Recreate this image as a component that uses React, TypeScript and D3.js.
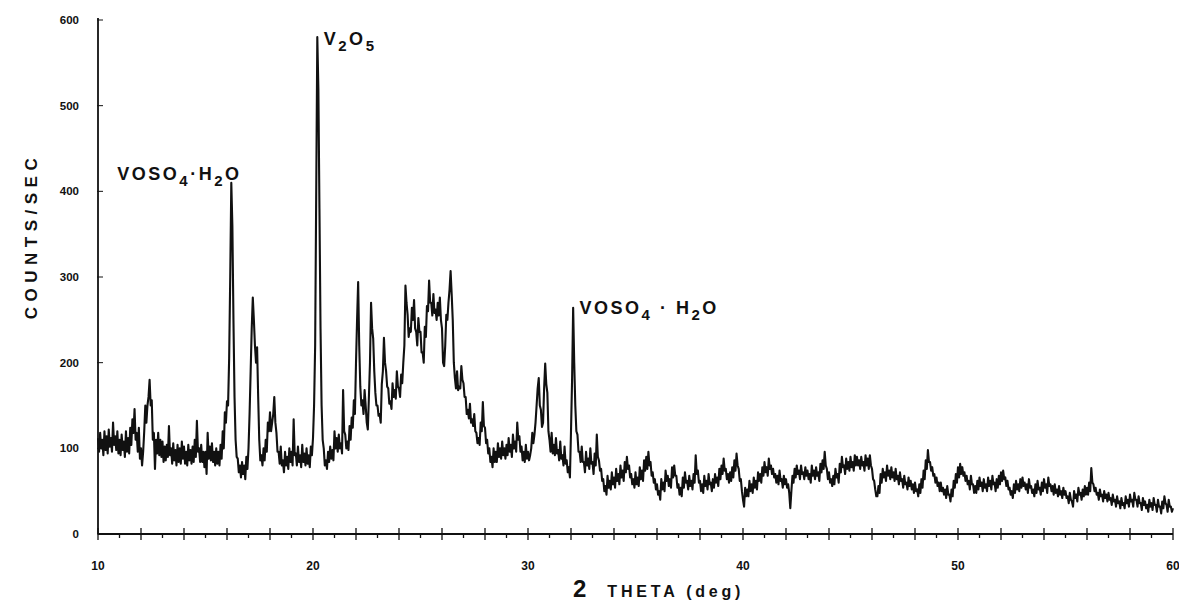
import React from "react";
import * as d3 from "d3";

// chart recorder scan, 2-theta 10..60 deg in 0.1 deg steps.
// countsA: reading at the start of each step, countsB: reading half a step later
const thetaStart = 10;
const thetaStep = 0.1;

const countsA = [
  // 10
  112, 118, 110, 120, 114, 122, 112, 130, 114, 120,
  // 11
  110, 116, 108, 120, 112, 124, 134, 146, 118, 124,
  // 12
  100, 96, 150, 150, 180, 156, 118, 110, 118, 110,
  // 13
  108, 102, 104, 126, 100, 106, 98, 104, 100, 108,
  // 14
  102, 96, 104, 98, 102, 110, 132, 100, 104, 96,
  // 15
  96, 118, 102, 106, 96, 100, 96, 104, 120, 142,
  // 16
  155, 205, 410, 250, 110, 88, 80, 84, 80, 90,
  // 17
  100, 190, 276, 220, 218, 110, 92, 100, 110, 130,
  // 18
  142, 130, 160, 118, 96, 102, 86, 96, 90, 100,
  // 19
  96, 134, 94, 102, 92, 104, 94, 100, 92, 102,
  // 20
  112, 220, 580, 380, 150, 100, 86, 96, 102, 98,
  // 21
  120, 112, 116, 106, 168, 116, 108, 126, 136, 156,
  // 22
  200, 294, 172, 156, 168, 130, 160, 270, 228, 165,
  // 23
  150, 140, 175, 229, 190, 170, 155, 176, 168, 190,
  // 24
  170, 186, 200, 290, 256, 240, 264, 273, 236, 252,
  // 25
  236, 212, 242, 266, 296, 270, 280, 262, 270, 276,
  // 26
  240, 196, 256, 270, 307, 250, 182, 190, 172, 196,
  // 27
  176, 160, 145, 152, 134, 140, 118, 112, 130, 154,
  // 28
  124, 110, 100, 90, 100, 96, 106, 100, 108, 100,
  // 29
  104, 112, 104, 116, 108, 130, 114, 102, 96, 104,
  // 30
  96, 92, 118, 116, 150, 182, 145, 130, 199, 165,
  // 31
  110, 118, 104, 112, 98, 108, 92, 102, 86, 78,
  // 32
  120, 264, 150, 116, 96, 102, 84, 96, 88, 100,
  // 33
  84, 94, 116, 86, 76, 64, 56, 68, 62, 72,
  // 34
  66, 76, 70, 80, 74, 84, 90, 80, 70, 64,
  // 35
  72, 66, 78, 74, 86, 90, 96, 84, 72, 64,
  // 36
  58, 50, 64, 60, 74, 68, 64, 78, 80, 68,
  // 37
  58, 54, 66, 72, 62, 68, 62, 70, 92, 74,
  // 38
  62, 58, 68, 62, 70, 60, 64, 70, 66, 76,
  // 39
  80, 88, 76, 70, 72, 78, 86, 94, 76, 64,
  // 40
  40, 54, 52, 62, 58, 66, 62, 72, 70, 78,
  // 41
  84, 78, 88, 80, 76, 70, 68, 74, 64, 68,
  // 42
  64, 58, 30, 68, 76, 80, 74, 80, 72, 78,
  // 43
  74, 70, 80, 74, 78, 72, 82, 86, 96, 76,
  // 44
  72, 64, 68, 76, 70, 82, 90, 80, 88, 84,
  // 45
  90, 84, 92, 90, 86, 90, 84, 92, 88, 92,
  // 46
  76, 62, 44, 56, 70, 76, 72, 80, 74, 78,
  // 47
  72, 76, 68, 72, 64, 68, 60, 66, 62, 58,
  // 48
  60, 52, 58, 64, 74, 86, 98, 84, 78, 70,
  // 49
  66, 60, 60, 54, 52, 56, 46, 52, 62, 70,
  // 50
  78, 82, 78, 72, 68, 62, 68, 58, 56, 62,
  // 51
  66, 60, 64, 58, 66, 62, 68, 60, 64, 68,
  // 52
  72, 74, 66, 62, 54, 50, 58, 62, 58, 64,
  // 53
  66, 60, 58, 64, 56, 52, 58, 62, 54, 60,
  // 54
  64, 58, 66, 58, 56, 58, 52, 56, 50, 54,
  // 55
  50, 44, 48, 38, 50, 46, 54, 48, 52, 56,
  // 56
  54, 60, 77, 58, 54, 48, 52, 46, 50, 46,
  // 57
  48, 42, 46, 40, 44, 38, 42, 36, 44, 40,
  // 58
  46, 40, 48, 40, 44, 36, 42, 38, 34, 40,
  // 59
  36, 42, 34, 40, 32, 38, 44, 34, 40, 32,
  // 60
  30,
];

const countsB = [
  // 10
  96, 100, 92, 98, 94, 102, 96, 104, 98, 94,
  // 11
  92, 98, 90, 96, 94, 104, 118, 110, 96, 88,
  // 12
  80, 120, 130, 160, 150, 110, 76, 94, 92, 90,
  // 13
  84, 86, 90, 92, 82, 86, 80, 84, 82, 88,
  // 14
  82, 80, 86, 82, 84, 90, 96, 84, 84, 78,
  // 15
  70, 88, 86, 84, 80, 82, 80, 88, 100, 130,
  // 16
  150, 300, 360, 160, 90, 72, 66, 70, 64, 76,
  // 17
  140, 240, 250, 200, 160, 86, 80, 86, 96, 120,
  // 18
  120, 140, 130, 96, 82, 80, 72, 80, 76, 84,
  // 19
  80, 92, 80, 84, 78, 84, 80, 82, 78, 92,
  // 20
  150, 400, 520, 240, 110, 80, 76, 84, 88, 86,
  // 21
  100, 96, 100, 94, 120, 100, 98, 110, 124, 140,
  // 22
  250, 220, 150, 140, 150, 122, 200, 240, 190, 150,
  // 23
  138, 130, 190, 200, 172, 152, 146, 160, 158, 172,
  // 24
  160, 176, 220, 270, 230, 236, 250, 240, 220, 236,
  // 25
  212, 200, 230, 260, 270, 255, 258, 250, 255, 250,
  // 26
  200, 220, 250, 285, 280, 200, 170, 168, 170, 180,
  // 27
  160, 140, 135, 130, 126, 120, 106, 104, 120, 126,
  // 28
  106, 94, 84, 78, 84, 84, 90, 88, 92, 88,
  // 29
  92, 96, 90, 100, 96, 110, 96, 86, 84, 88,
  // 30
  86, 100, 106, 130, 170, 150, 125, 170, 175, 120,
  // 31
  96, 94, 92, 94, 86, 88, 80, 82, 72, 66,
  // 32
  180, 200, 120, 96, 84, 84, 72, 80, 76, 82,
  // 33
  70, 80, 90, 74, 62, 50, 46, 54, 52, 58,
  // 34
  54, 62, 58, 66, 62, 72, 76, 66, 58, 54,
  // 35
  58, 56, 64, 62, 74, 76, 80, 68, 60, 52,
  // 36
  46, 40, 52, 50, 62, 56, 54, 66, 68, 54,
  // 37
  46, 44, 54, 60, 52, 56, 52, 60, 70, 60,
  // 38
  50, 48, 56, 52, 58, 50, 54, 60, 56, 64,
  // 39
  70, 74, 64, 60, 62, 66, 74, 80, 62, 50,
  // 40
  32, 44, 44, 50, 48, 54, 52, 62, 60, 68,
  // 41
  72, 68, 76, 70, 66, 60, 58, 62, 54, 58,
  // 42
  54, 48, 50, 60, 66, 70, 64, 70, 64, 68,
  // 43
  64, 60, 68, 64, 68, 62, 72, 76, 80, 64,
  // 44
  60, 56, 58, 66, 60, 72, 78, 70, 76, 74,
  // 45
  78, 74, 80, 80, 76, 80, 74, 80, 76, 80,
  // 46
  64, 52, 44, 48, 60, 66, 62, 68, 64, 66,
  // 47
  62, 64, 58, 62, 54, 58, 52, 56, 52, 48,
  // 48
  50, 44, 48, 54, 64, 76, 84, 74, 68, 60,
  // 49
  56, 50, 50, 46, 42, 46, 38, 44, 54, 60,
  // 50
  66, 70, 68, 62, 58, 52, 58, 48, 48, 52,
  // 51
  56, 50, 54, 50, 56, 52, 58, 50, 54, 58,
  // 52
  62, 64, 56, 52, 46, 42, 48, 52, 50, 54,
  // 53
  56, 52, 48, 54, 48, 44, 48, 52, 46, 50,
  // 54
  54, 48, 56, 50, 46, 48, 44, 46, 42, 46,
  // 55
  42, 36, 40, 32, 42, 38, 46, 40, 44, 46,
  // 56
  46, 50, 60, 50, 46, 40, 44, 38, 42, 38,
  // 57
  40, 34, 38, 32, 36, 30, 34, 30, 36, 32,
  // 58
  38, 32, 40, 32, 36, 28, 34, 30, 26, 32,
  // 59
  28, 34, 26, 32, 24, 30, 36, 26, 32, 26,
];

const yTicks = [0, 100, 200, 300, 400, 500, 600];
const xLabels = [10, 20, 30, 40, 50, 60];
const xTicks = d3.range(10, 61, 1);

const peakLabels = [
  { theta: 10.9, count: 420, main: "VOSO", sub1: "4", mid: "·H", sub2: "2", tail: "O" },
  { theta: 20.5, count: 578, main: "V", sub1: "2", mid: "O", sub2: "5", tail: "" },
  { theta: 32.4, count: 264, main: "VOSO", sub1: "4", mid: " · H", sub2: "2", tail: "O" },
];

const W = 1179;
const H = 601;
const font = "'Liberation Sans', Arial, Helvetica, sans-serif";
const ink = "#111";

export default function App() {
  const x = d3.scaleLinear().domain([10, 60]).range([98, 1173]);
  const y = d3.scaleLinear().domain([0, 600]).range([534, 20]);

  const points: number[][] = [];
  countsA.forEach((c, i) => {
    const t = thetaStart + i * thetaStep;
    points.push([t, c]);
    if (i < countsB.length) points.push([t + thetaStep / 2, countsB[i]]);
  });

  const line = d3
    .line<number[]>()
    .x(d => x(d[0]))
    .y(d => y(d[1]));

  return (
    <svg
      width={W}
      height={H}
      style={{ position: "absolute", left: 0, top: 0, background: "#fff" }}
    >
      <rect width={W} height={H} fill="#fff" />

      {/* y axis */}
      <line x1={x(10)} x2={x(10)} y1={y(600) - 2} y2={y(0)} stroke={ink} strokeWidth={1.8} />
      {yTicks.map(t => (
        <g key={t}>
          <line x1={x(10) - 1} x2={x(10) + 5} y1={y(t)} y2={y(t)} stroke={ink} strokeWidth={1} />
          <text
            x={79}
            y={y(t)}
            dy="0.35em"
            textAnchor="end"
            fontFamily={font}
            fontWeight="bold"
            fontSize={11.5}
            fill={ink}
          >
            {t}
          </text>
        </g>
      ))}
      <text
        transform={`translate(37, 236) rotate(-90)`}
        textAnchor="middle"
        fontFamily={font}
        fontWeight="bold"
        fontSize={17}
        letterSpacing={5.5}
        fill={ink}
      >
        COUNTS/SEC
      </text>

      {/* x axis */}
      <line x1={x(10)} x2={x(60)} y1={y(0)} y2={y(0)} stroke={ink} strokeWidth={1.8} />
      {xTicks.map(t => {
        const major = t % 2 === 0;
        return (
          <line
            key={t}
            x1={x(t)}
            x2={x(t)}
            y1={major ? y(0) - 6 : y(0)}
            y2={major ? y(0) + 6 : y(0) + 4}
            stroke={ink}
            strokeWidth={1.3}
          />
        );
      })}
      {xLabels.map(t => (
        <text
          key={t}
          x={x(t)}
          y={570}
          textAnchor="middle"
          fontFamily={font}
          fontWeight="bold"
          fontSize={12}
          fill={ink}
        >
          {t}
        </text>
      ))}
      <text x={573} y={597} fontFamily={font} fontWeight="bold" fill={ink}>
        <tspan fontSize={24}>2</tspan>
        <tspan dx={21} fontSize={16} letterSpacing={3.8}>THETA (deg)</tspan>
      </text>

      {/* scan trace */}
      <path
        d={line(points) || ""}
        fill="none"
        stroke={ink}
        strokeWidth={2.1}
        strokeLinejoin="round"
      />

      {/* peak labels */}
      {peakLabels.map((p, i) => (
        <text
          key={i}
          x={x(p.theta)}
          y={y(p.count) + 6}
          fontFamily={font}
          fontSize={18}
          fontWeight="bold"
          letterSpacing={2.5}
          fill={ink}
        >
          <tspan>{p.main}</tspan>
          <tspan fontSize={15} dy={6}>{p.sub1}</tspan>
          <tspan dy={-6}>{p.mid}</tspan>
          <tspan fontSize={15} dy={6}>{p.sub2}</tspan>
          <tspan dy={-6}>{p.tail}</tspan>
        </text>
      ))}
    </svg>
  );
}
